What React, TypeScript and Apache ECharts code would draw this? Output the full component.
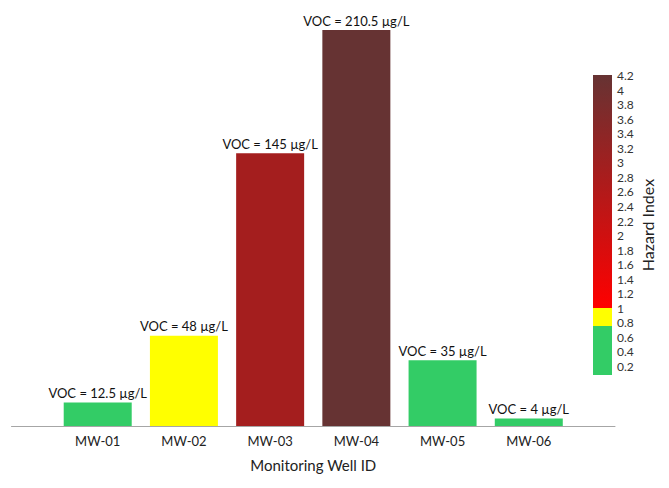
import React, { useEffect, useRef } from "react";
import * as echarts from "echarts";

const wells = ["MW-01", "MW-02", "MW-03", "MW-04", "MW-05", "MW-06"];
const vocUgL = [12.5, 48, 145, 210.5, 35, 4];
const hazardIndex = [0.25, 0.96, 2.9, 4.21, 0.7, 0.08];
const colorbarTicks = [0.2, 0.4, 0.6, 0.8, 1, 1.2, 1.4, 1.6, 1.8, 2, 2.2, 2.4, 2.6, 2.8, 3, 3.2, 3.4, 3.6, 3.8, 4, 4.2];
const greenMax = 0.75;
const yellowMax = 1.0;

const GREEN = "#33CC66";
const YELLOW = "#FFFF00";
const RED = [255, 0, 0];
const BROWN = [102, 51, 51];

const hiMin = Math.min(...hazardIndex);
const hiMax = Math.max(...hazardIndex);

function colorFor(v: number): string {
  if (v < greenMax) return GREEN;
  if (v < yellowMax) return YELLOW;
  const t = Math.min(1, Math.max(0, (v - yellowMax) / (hiMax - yellowMax)));
  const c = RED.map((r, i) => Math.round(r + (BROWN[i] - r) * t));
  return `rgb(${c[0]},${c[1]},${c[2]})`;
}

const FONT = "Lato";

export default function App() {
  const ref = useRef<HTMLDivElement>(null);
  useEffect(() => {
    if (!ref.current) return;
    const chart = echarts.init(ref.current, null, { renderer: "svg" });
    const span = hiMax - hiMin;
    const off = (v: number) => (hiMax - v) / span;
    const gradient = new echarts.graphic.LinearGradient(0, 0, 0, 1, [
      { offset: 0, color: `rgb(${BROWN.join(",")})` },
      { offset: off(yellowMax), color: `rgb(${RED.join(",")})` },
      { offset: off(yellowMax), color: YELLOW },
      { offset: off(greenMax), color: YELLOW },
      { offset: off(greenMax), color: GREEN },
      { offset: 1, color: GREEN },
    ]);
    chart.setOption({
      animation: false,
      textStyle: { fontFamily: FONT },
      grid: [
        { left: 11.5, right: 54, top: 30, bottom: 62 },
        { left: 593, width: 19, top: 75, bottom: 113 },
      ],
      xAxis: [
        {
          type: "value",
          gridIndex: 0,
          min: -1,
          max: 6,
          interval: 1,
          splitLine: { show: false },
          axisTick: { show: false },
          axisLine: { show: true, lineStyle: { color: "#a6a6a6", width: 1 } },
          axisLabel: {
            margin: 8,
            fontSize: 13,
            color: "#222",
            fontFamily: FONT,
            showMinLabel: true,
            showMaxLabel: true,
            formatter: (v: number) => (Number.isInteger(v) && wells[v] ? wells[v] : ""),
          },
          name: "Monitoring Well ID",
          nameLocation: "middle",
          nameGap: 31,
          nameTextStyle: { fontSize: 15, color: "#222", fontFamily: FONT },
        },
        {
          type: "value",
          gridIndex: 1,
          min: 0,
          max: 1,
          show: false,
        },
      ],
      yAxis: [
        {
          type: "value",
          gridIndex: 0,
          min: 0,
          max: hiMax,
          show: false,
        },
        {
          type: "value",
          gridIndex: 1,
          position: "right",
          min: hiMin,
          max: hiMax,
          splitLine: { show: false },
          axisLine: { show: false },
          axisTick: { show: false },
          axisLabel: {
            show: true,
            customValues: colorbarTicks,
            margin: 5,
            fontSize: 12,
            color: "#333",
            fontFamily: FONT,
            formatter: (v: number) => String(Math.round(v * 10) / 10),
          },
          name: "Hazard Index",
          nameLocation: "middle",
          nameRotate: 90,
          nameGap: 27,
          nameMoveOverlap: false,
          nameTextStyle: { fontSize: 16, color: "#222", fontFamily: FONT },
        },
      ],
      series: [
        {
          type: "bar",
          xAxisIndex: 0,
          yAxisIndex: 0,
          barWidth: 68,
          data: hazardIndex.map((v, i) => ({
            value: [i, v],
            itemStyle: { color: colorFor(v) },
          })),
          label: {
            show: true,
            position: "top",
            distance: 3,
            fontSize: 13,
            color: "#111",
            fontFamily: FONT,
            formatter: (p: any) => `VOC = ${vocUgL[p.dataIndex]} µg/L`,
          },
        },
        {
          type: "custom",
          xAxisIndex: 1,
          yAxisIndex: 1,
          data: [[0, hiMin, hiMax]],
          renderItem: (params: any, api: any) => {
            const top = api.coord([0, api.value(2)]);
            const bot = api.coord([0, api.value(1)]);
            const cs = params.coordSys;
            return {
              type: "rect",
              shape: { x: cs.x, y: top[1], width: cs.width, height: bot[1] - top[1] },
              style: { fill: gradient },
            };
          },
        },
      ],
    });
    return () => chart.dispose();
  }, []);
  return <div ref={ref} style={{ width: 669, height: 488, margin: -8 }} />;
}
